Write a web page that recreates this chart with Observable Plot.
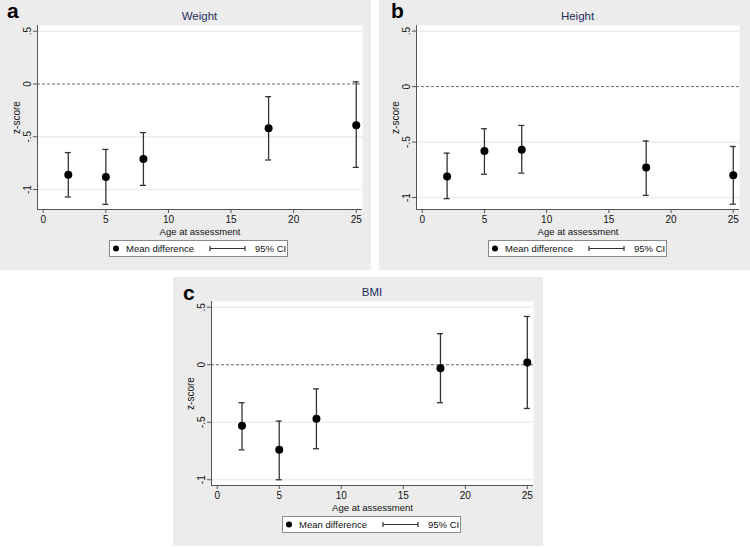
<!DOCTYPE html>
<html><head><meta charset="utf-8">
<script src="https://cdn.jsdelivr.net/npm/d3@7"></script>
<script src="https://cdn.jsdelivr.net/npm/@observablehq/plot@0.6"></script>
<style>
body{margin:0;background:#fff;font-family:"Liberation Sans",Arial,Helvetica,sans-serif;}
#page{position:relative;width:750px;height:547px;overflow:hidden;background:#fff;}
.panel{position:absolute;background:#ececec;}
.panel svg{position:absolute;left:0;top:0;}
.letter{position:absolute;font-weight:bold;font-size:21px;line-height:1;color:#000;}
.title{position:absolute;font-size:11.5px;color:#1f2d5c;text-align:center;line-height:1;}
.legend{position:absolute;}
</style>
</head><body>
<div id="page"></div>
<script>
// ---- data ----
const ages = [2, 5, 8, 18, 25];
const weightMean = [-0.86, -0.88, -0.71, -0.42, -0.39];
const weightLo   = [-1.07, -1.14, -0.96, -0.72, -0.79];
const weightHi   = [-0.65, -0.62, -0.46, -0.12, 0.02];
const heightMean = [-0.81, -0.58, -0.57, -0.73, -0.80];
const heightLo   = [-1.01, -0.79, -0.78, -0.98, -1.06];
const heightHi   = [-0.60, -0.38, -0.35, -0.49, -0.54];
const bmiMean    = [-0.53, -0.74, -0.47, -0.03, 0.02];
const bmiLo      = [-0.74, -1.00, -0.73, -0.33, -0.38];
const bmiHi      = [-0.33, -0.49, -0.21, 0.27, 0.42];
const xTicks = [0, 5, 10, 15, 20, 25];
const yTicks = [0.5, 0, -0.5, -1];
const yTickLabels = [".5", "0", "-.5", "-1"];
const panelLetters = ["a", "b", "c"];
const panelTitles = ["Weight", "Height", "BMI"];
const xLabel = "Age at assessment";
const yLabel = "z-score";
const legendLabels = ["Mean difference", "95% CI"];

const FONT = '"Liberation Sans", Arial, Helvetica, sans-serif';

const panels = [
  {letter: panelLetters[0], title: panelTitles[0], mean: weightMean, lo: weightLo, hi: weightHi,
   left: 0, top: 0, w: 371, h: 270, mt: 25, mb: 61, ml: 37, mr: 9, yDomain: [-1.189, 0.554], letterPos: [7, 0]},
  {letter: panelLetters[1], title: panelTitles[1], mean: heightMean, lo: heightLo, hi: heightHi,
   left: 379, top: 0, w: 371, h: 270, mt: 25, mb: 61, ml: 37, mr: 11, yDomain: [-1.108, 0.551], letterPos: [12, 0]},
  {letter: panelLetters[2], title: panelTitles[2], mean: bmiMean, lo: bmiLo, hi: bmiHi,
   left: 173, top: 277, w: 370, h: 269, mt: 24, mb: 61, ml: 38, mr: 10, yDomain: [-1.05, 0.55], letterPos: [10, 5]}
];

const page = document.getElementById("page");

for (const p of panels) {
  const rows = ages.map((a, i) => ({age: a, mean: p.mean[i], lo: p.lo[i], hi: p.hi[i]}));
  const div = document.createElement("div");
  div.className = "panel";
  Object.assign(div.style, {left: p.left + "px", top: p.top + "px", width: p.w + "px", height: p.h + "px"});
  page.appendChild(div);

  const xDomain = [-0.46, 25.5];
  const chart = Plot.plot({
    width: p.w, height: p.h,
    marginTop: p.mt, marginBottom: p.mb, marginLeft: p.ml, marginRight: p.mr,
    style: {background: "transparent", fontFamily: FONT, fontSize: "10px", color: "#222", overflow: "visible"},
    x: {domain: xDomain},
    y: {domain: p.yDomain},
    marks: [
      Plot.frame({fill: "white", stroke: null}),
      Plot.ruleY(yTicks.filter(d => d !== 0), {stroke: "#e6eff1", strokeWidth: 1.5}),
      Plot.ruleY([0], {stroke: "#444", strokeWidth: 0.8, strokeDasharray: "3,2"}),
      Plot.ruleX([xDomain[0]], {stroke: "#555", strokeWidth: 1}),
      Plot.ruleY([p.yDomain[0]], {stroke: "#555", strokeWidth: 1}),
      Plot.axisX({ticks: xTicks, tickSize: 4, tickPadding: 2, label: null, stroke: "#555", fill: "#111", fontSize: 10, tickFormat: d => String(d)}),
      Plot.axisY({ticks: yTicks, tickSize: 4, label: null, stroke: "#555", tickFormat: () => ""}),
      Plot.text(yTicks, {y: d => d, text: (d, i) => yTickLabels[i], frameAnchor: "left", dx: -10, rotate: -90, textAnchor: "middle", lineAnchor: "middle", fontSize: 10, fill: "#111"}),
      Plot.text([yLabel], {frameAnchor: "left", dx: -21, rotate: -90, textAnchor: "middle", lineAnchor: "middle", fontSize: 10, fill: "#111"}),
      Plot.text([xLabel], {frameAnchor: "bottom", dy: 22, textAnchor: "middle", lineAnchor: "middle", fontSize: 9.5, fill: "#111"}),
      Plot.ruleX(rows, {x: "age", y1: "lo", y2: "hi", stroke: "#333", strokeWidth: 1.3}),
      Plot.ruleY(rows, {y: "lo", x1: "age", x2: "age", insetLeft: -3, insetRight: -3, stroke: "#333", strokeWidth: 1.3}),
      Plot.ruleY(rows, {y: "hi", x1: "age", x2: "age", insetLeft: -3, insetRight: -3, stroke: "#333", strokeWidth: 1.3}),
      Plot.dot(rows, {x: "age", y: "mean", r: 4, fill: "black", stroke: null})
    ]
  });
  div.appendChild(chart);

  const letter = document.createElement("div");
  letter.className = "letter";
  letter.textContent = p.letter;
  Object.assign(letter.style, {left: p.letterPos[0] + "px", top: p.letterPos[1] + "px"});
  div.appendChild(letter);

  const title = document.createElement("div");
  title.className = "title";
  title.textContent = p.title;
  Object.assign(title.style, {left: p.ml + "px", width: (p.w - p.ml - p.mr) + "px", top: (p.mt - 14) + "px"});
  div.appendChild(title);

  // legend
  const lg = d3.create("svg").attr("class", "legend").attr("width", 180).attr("height", 18)
    .style("left", "109px").style("top", (p.h - 30) + "px").style("position", "absolute");
  lg.append("rect").attr("x", 0.5).attr("y", 0.5).attr("width", 178).attr("height", 16)
    .attr("fill", "white").attr("stroke", "#8a8a8a");
  lg.append("circle").attr("cx", 7).attr("cy", 8.5).attr("r", 3).attr("fill", "black");
  lg.append("text").attr("x", 17).attr("y", 12).attr("font-size", 9.5).attr("font-family", FONT).attr("fill", "#111").text(legendLabels[0]);
  lg.append("line").attr("x1", 101).attr("x2", 136).attr("y1", 8.5).attr("y2", 8.5).attr("stroke", "#333").attr("stroke-width", 1.2);
  lg.append("line").attr("x1", 101).attr("x2", 101).attr("y1", 6).attr("y2", 11).attr("stroke", "#333").attr("stroke-width", 1.2);
  lg.append("line").attr("x1", 136).attr("x2", 136).attr("y1", 6).attr("y2", 11).attr("stroke", "#333").attr("stroke-width", 1.2);
  lg.append("text").attr("x", 146).attr("y", 12).attr("font-size", 9.5).attr("font-family", FONT).attr("fill", "#111").text(legendLabels[1]);
  div.appendChild(lg.node());
}
</script>
</body></html>
